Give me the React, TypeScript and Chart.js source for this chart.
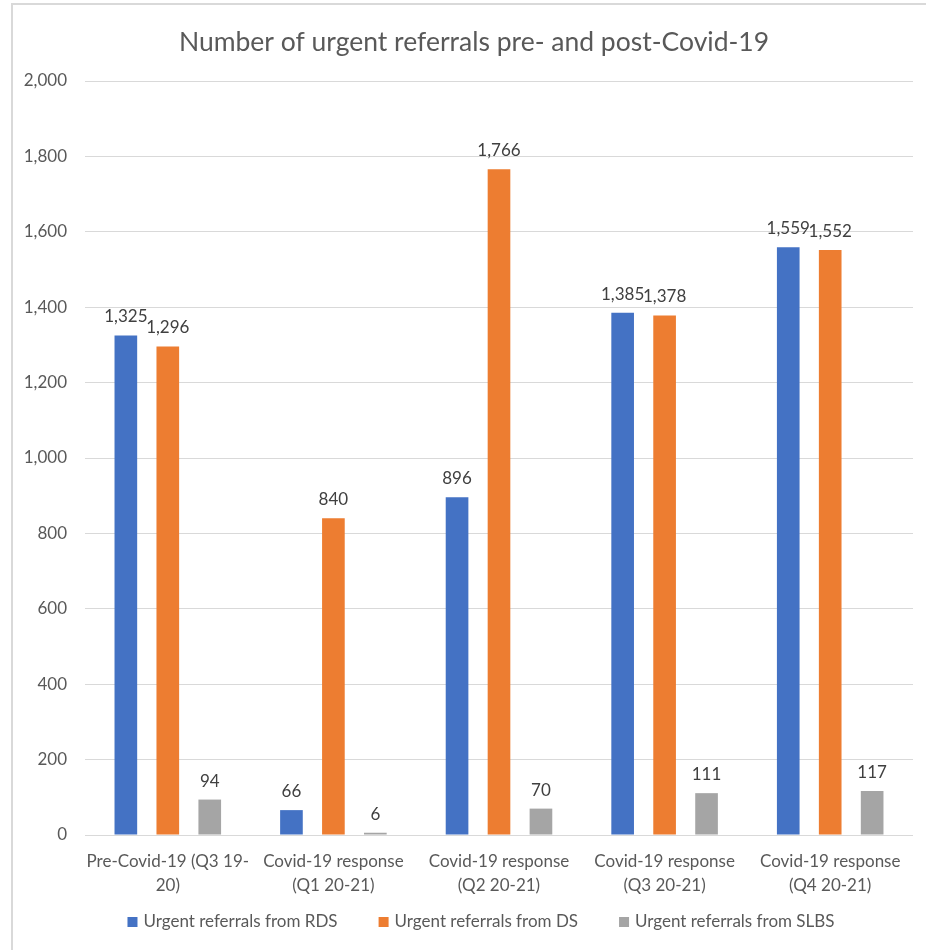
import { useEffect, useRef } from "react";
import { Chart, registerables } from "chart.js";

Chart.register(...registerables);

// Quarter categories (wrapped onto two lines under the axis)
const categories: string[][] = [
  ["Pre-Covid-19 (Q3 19-", "20)"],
  ["Covid-19 response", "(Q1 20-21)"],
  ["Covid-19 response", "(Q2 20-21)"],
  ["Covid-19 response", "(Q3 20-21)"],
  ["Covid-19 response", "(Q4 20-21)"],
];

const seriesNames = [
  "Urgent referrals from RDS",
  "Urgent referrals from DS",
  "Urgent referrals from SLBS",
];

const rdsReferrals = [1325, 66, 896, 1385, 1559];
const dsReferrals = [1296, 840, 1766, 1378, 1552];
const slbsReferrals = [94, 6, 70, 111, 117];

const seriesColors = ["#4472C4", "#ED7D31", "#A5A5A5"];

const yMin = 0;
const yMax = 2000;
const yStep = 200;

const chartTitle = "Number of urgent referrals pre- and post-Covid-19";

const FONT = "Lato, 'Open Sans', sans-serif";
const TEXT = "#595959";

const fmt = (v: number) => v.toLocaleString("en-US");

// Writes each bar's value just above it
const valueLabels = {
  id: "valueLabels",
  afterDatasetsDraw(chart: any) {
    const ctx = chart.ctx;
    ctx.save();
    ctx.font = `17px ${FONT}`;
    ctx.fillStyle = "#404040";
    ctx.textAlign = "center";
    ctx.textBaseline = "alphabetic";
    chart.data.datasets.forEach((ds: any, i: number) => {
      const meta = chart.getDatasetMeta(i);
      meta.data.forEach((bar: any, j: number) => {
        ctx.fillText(fmt(ds.data[j] as number), bar.x, bar.y - 13);
      });
    });
    ctx.restore();
  },
};

// Title across the top and a single-row legend along the bottom
const frameText = {
  id: "frameText",
  afterDraw(chart: any) {
    const ctx = chart.ctx;
    ctx.save();
    ctx.fillStyle = TEXT;
    ctx.textBaseline = "middle";

    ctx.font = `26.5px ${FONT}`;
    ctx.textAlign = "center";
    ctx.fillText(chartTitle, 474, 42);

    ctx.font = `17px ${FONT}`;
    ctx.textAlign = "left";
    const box = 10;
    const boxGap = 6;
    const itemGap = 41;
    const items = chart.data.datasets.map((ds: any) => ({
      text: ds.label as string,
      color: ds.backgroundColor as string,
      w: box + boxGap + ctx.measureText(ds.label).width,
    }));
    const total =
      items.reduce((s: number, it: any) => s + it.w, 0) + itemGap * (items.length - 1);
    let x = 481 - total / 2;
    const y = 922;
    items.forEach((it: any) => {
      ctx.fillStyle = it.color;
      ctx.fillRect(x, y - box / 2, box, box);
      ctx.fillStyle = TEXT;
      ctx.fillText(it.text, x + box + boxGap, y);
      x += it.w + itemGap;
    });
    ctx.restore();
  },
};

export default function App() {
  const canvasRef = useRef<HTMLCanvasElement | null>(null);

  useEffect(() => {
    if (!canvasRef.current) return;
    const values = [rdsReferrals, dsReferrals, slbsReferrals];
    const chart = new Chart(canvasRef.current, {
      type: "bar",
      data: {
        labels: categories,
        datasets: values.map((data, i) => ({
          label: seriesNames[i],
          data,
          backgroundColor: seriesColors[i],
          borderWidth: 0,
          categoryPercentage: 0.76,
          barPercentage: 0.54,
        })),
      },
      options: {
        responsive: false,
        animation: false,
        layout: { padding: { left: 14, right: 13, top: 81, bottom: 45 } },
        plugins: {
          title: { display: false },
          legend: { display: false },
          tooltip: { enabled: false },
        },
        scales: {
          x: {
            grid: { display: false },
            border: { display: false },
            ticks: {
              color: TEXT,
              font: { family: FONT, size: 17, lineHeight: "24px" },
              padding: 7,
              maxRotation: 0,
              autoSkip: false,
            },
            afterFit(scale: any) {
              scale.height = 70;
            },
          },
          y: {
            min: yMin,
            max: yMax,
            grid: { color: "#D9D9D9", lineWidth: 1, drawTicks: false },
            border: { display: false },
            ticks: {
              stepSize: yStep,
              color: TEXT,
              font: { family: FONT, size: 17 },
              padding: 18,
              callback: (v: any) => fmt(Number(v)),
            },
            afterFit(scale: any) {
              scale.width = 71;
            },
          },
        },
      },
      plugins: [valueLabels, frameText],
    });
    return () => chart.destroy();
  }, []);

  return (
    <div
      style={{
        position: "absolute",
        left: 0,
        top: 0,
        width: 926,
        height: 950,
        background: "#fff",
        overflow: "hidden",
      }}
    >
      <div style={{ position: "absolute", left: 11, top: 3, right: 0, height: 2, background: "#D9D9D9" }} />
      <div style={{ position: "absolute", left: 11, top: 3, bottom: 0, width: 2, background: "#D9D9D9" }} />
      <canvas
        ref={canvasRef}
        width={926}
        height={950}
        style={{ position: "absolute", left: 0, top: 0, width: 926, height: 950 }}
      />
    </div>
  );
}
